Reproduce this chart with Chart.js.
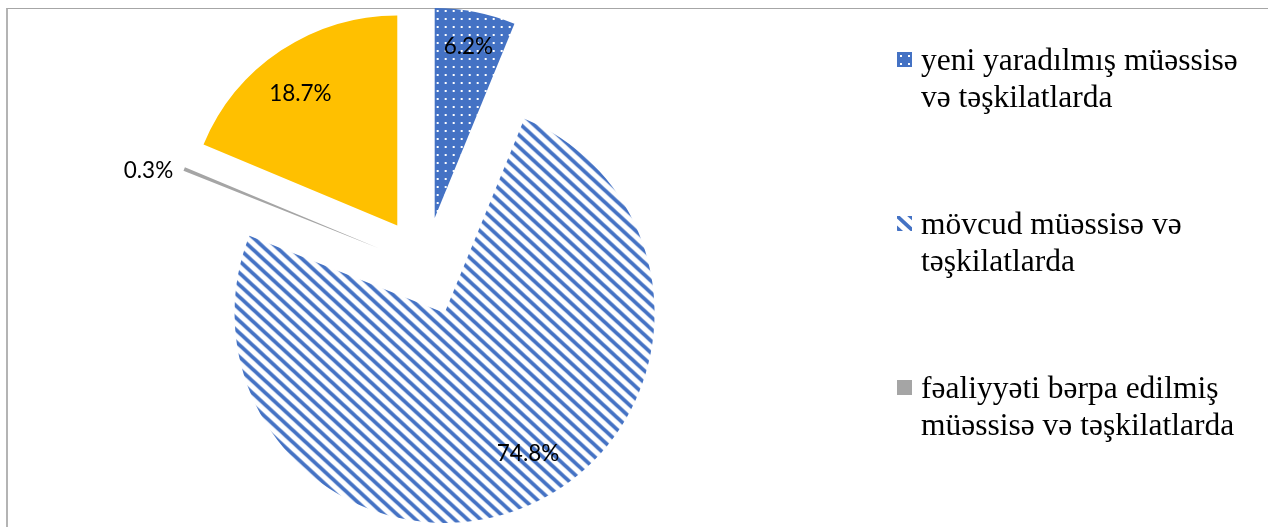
<!DOCTYPE html>
<html><head><meta charset="utf-8">
<script src="https://cdn.jsdelivr.net/npm/chart.js@4.4.1/dist/chart.umd.min.js"></script>
<style>
html,body{margin:0;padding:0;background:#fff;overflow:hidden;width:1268px;height:527px;}
#frame{position:absolute;left:6px;top:8px;width:1400px;height:700px;border-top:1px solid #a6a6a6;border-left:2px solid #b4b4b4;box-sizing:border-box;}
#wrap{position:absolute;left:0;top:0;width:1268px;height:534px;}
</style></head><body>
<div id="frame"></div>
<div id="wrap"><canvas id="c"></canvas></div>
<script>
// ---- data ----
const categories = [
  'yeni yaradılmış müəssisə və təşkilatlarda',
  'mövcud müəssisə və təşkilatlarda',
  'fəaliyyəti bərpa edilmiş müəssisə və təşkilatlarda',
  ''
];
const shares = [6.2, 74.8, 0.3, 18.7];
const legendShown = [true, true, true, false];

// ---- styles ----
const BLUE = '#4472C4', GRAY = '#A5A5A5', GOLD = '#FFC000';
const EXPLODE = 50;
const RADIUS = 210;
const LABEL_FONT = '22.5px Lato, "Open Sans", sans-serif';
const LEGEND_FONT = '31.5px "Liberation Serif", "DejaVu Serif", serif';
// label placement relative to each exploded slice: fraction of radius, angle shift (deg), or outside
const labelPlace = [
  {frac:0.83, da:0},
  {frac:0.78, da:-7.6},
  {outside:true, dx:-11, dy:2},
  {frac:0.78, da:-2.6}
];
const legendCfg = {swatchX:897, textX:921, firstBaseline:69.5, itemGap:164, lineH:37, swatch:15, swatchOff:-17.5, maxWidth:335};

const canvas = document.getElementById('c');
const ctx0 = canvas.getContext('2d');

function dotTile(){
  const c=document.createElement('canvas'); c.width=8; c.height=8;
  const g=c.getContext('2d');
  g.fillStyle=BLUE; g.fillRect(0,0,8,8);
  g.fillStyle='#ffffff'; g.fillRect(3,3,2,2);
  return c;
}
function stripeTile(){
  const w=13,h=12;
  const c=document.createElement('canvas'); c.width=w; c.height=h;
  const g=c.getContext('2d');
  g.fillStyle='#ffffff'; g.fillRect(0,0,w,h);
  g.strokeStyle=BLUE; g.lineWidth=3.8;
  for (const k of [-1,0,1]) {
    g.beginPath(); g.moveTo(k*w - w, -h); g.lineTo(k*w + 2*w, 2*h); g.stroke();
  }
  return c;
}
const dotPat = ctx0.createPattern(dotTile(),'repeat');
const stripePat = ctx0.createPattern(stripeTile(),'repeat');
const fills = [dotPat, stripePat, GRAY, GOLD];

const explodePlugin = {
  id:'explode',
  beforeDatasetDraw(chart, args){
    const ctx = chart.ctx;
    args.meta.data.forEach(arc => {
      const mid = (arc.startAngle + arc.endAngle)/2;
      ctx.save();
      ctx.translate(Math.cos(mid)*EXPLODE, Math.sin(mid)*EXPLODE);
      arc.draw(ctx);
      ctx.restore();
    });
    return false;
  }
};

const labelPlugin = {
  id:'pieLabels',
  afterDatasetsDraw(chart){
    const ctx = chart.ctx;
    const meta = chart.getDatasetMeta(0);
    ctx.save();
    ctx.font = LABEL_FONT;
    ctx.fillStyle = '#000';
    ctx.textBaseline = 'middle';
    meta.data.forEach((arc,i) => {
      const mid = (arc.startAngle + arc.endAngle)/2;
      const ax = arc.x + Math.cos(mid)*EXPLODE, ay = arc.y + Math.sin(mid)*EXPLODE;
      const p = labelPlace[i];
      const txt = shares[i].toFixed(1) + '%';
      if (p.outside) {
        const ox = ax + Math.cos(mid)*arc.outerRadius, oy = ay + Math.sin(mid)*arc.outerRadius;
        ctx.textAlign = 'right';
        ctx.fillText(txt, ox + p.dx, oy + p.dy);
      } else {
        const a = mid + p.da*Math.PI/180;
        const r = arc.outerRadius * p.frac;
        ctx.textAlign = 'center';
        ctx.fillText(txt, ax + Math.cos(a)*r, ay + Math.sin(a)*r);
      }
    });
    ctx.restore();
  }
};

function wrap(ctx, text, maxW){
  const words = text.split(' ');
  const lines = []; let cur = '';
  for (const w of words) {
    const t = cur ? cur + ' ' + w : w;
    if (cur && ctx.measureText(t).width > maxW) { lines.push(cur); cur = w; }
    else cur = t;
  }
  if (cur) lines.push(cur);
  return lines;
}

const legendPlugin = {
  id:'sideLegend',
  afterDraw(chart){
    const ctx = chart.ctx;
    ctx.save();
    ctx.font = LEGEND_FONT;
    ctx.textAlign = 'left';
    ctx.textBaseline = 'alphabetic';
    let n = 0;
    categories.forEach((cat,i) => {
      if (!legendShown[i]) return;
      const base = legendCfg.firstBaseline + n*legendCfg.itemGap;
      const sy = base + legendCfg.swatchOff;
      ctx.save();
      ctx.translate(legendCfg.swatchX, sy);
      ctx.fillStyle = fills[i];
      ctx.fillRect(0,0,legendCfg.swatch,legendCfg.swatch);
      ctx.restore();
      ctx.fillStyle = '#000';
      wrap(ctx, cat, legendCfg.maxWidth).forEach((ln,j) => {
        ctx.fillText(ln, legendCfg.textX, base + j*legendCfg.lineH);
      });
      n++;
    });
    ctx.restore();
  }
};

new Chart(canvas, {
  type:'pie',
  data:{
    labels: categories,
    datasets:[{
      data: shares,
      backgroundColor: fills,
      borderWidth: 0,
      offset: 0,
      hoverOffset: 0
    }]
  },
  options:{
    responsive:true,
    maintainAspectRatio:false,
    animation:false,
    events:[],
    radius: RADIUS,
    layout:{padding:{left:0, right:418, top:0, bottom:0}},
    plugins:{legend:{display:false}, tooltip:{enabled:false}}
  },
  plugins:[explodePlugin, labelPlugin, legendPlugin]
});
</script>
</body></html>
